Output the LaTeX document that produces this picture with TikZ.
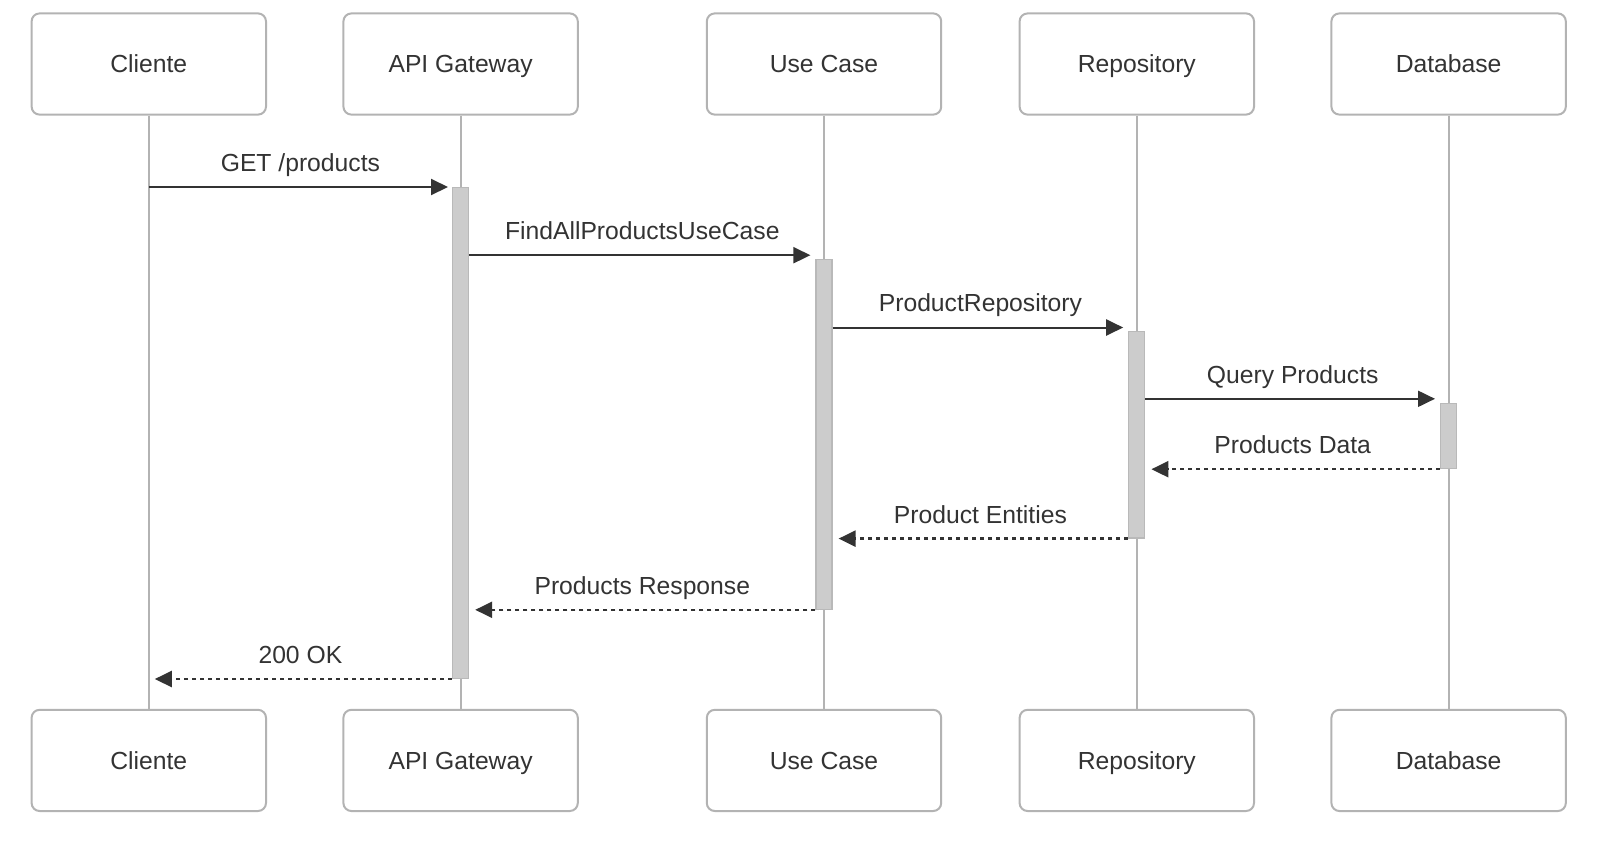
\documentclass[tikz,border=0pt]{standalone}
\usepackage{fontspec}
\setmainfont{Liberation Sans}
\usepackage{tikz}
\usetikzlibrary{arrows.meta, positioning, calc}

\definecolor{boxgray}{RGB}{179,179,179}
\definecolor{actfill}{RGB}{204,204,204}
\definecolor{actline}{RGB}{185,185,185}
\definecolor{ink}{RGB}{51,51,51}

\begin{document}
\begin{tikzpicture}[
    x=0.5pt, y=-0.5pt,
    actor/.style={rectangle, draw=boxgray, line width=1pt, rounded corners=4pt, fill=white, text=ink, minimum width=117.2pt, minimum height=50.6pt, text height=11pt, text depth=2.2pt, font=\fontsize{12.35}{14}\selectfont},
    life/.style={draw=boxgray, line width=1pt},
    act/.style={rectangle, draw=actline, fill=actfill, line width=0.6pt, minimum width=8pt, inner sep=0pt, anchor=north},
    msg/.style={draw=ink, line width=1pt, -{Triangle[length=8.5pt, width=8pt]}},
    reply/.style={msg, line width=1.2pt, dash pattern=on 2pt off 2pt},
    lbl/.style={text=ink, font=\fontsize{12.35}{14}\selectfont, anchor=base, yshift=7.8pt}
]
    \useasboundingbox (0,0) rectangle (1620,853);

    % Participants (top)
    \node (cli) [actor] at (148.8,64) {Cliente};
    \node (api) [actor, right=37.7pt of cli] {API Gateway};
    \node (uc) [actor, right=63.5pt of api] {Use Case};
    \node (repo) [actor, right=38.2pt of uc] {Repository};
    \node (db) [actor, right=37.7pt of repo] {Database};

    % Lifelines and participants (bottom)
    \foreach \p/\t in {cli/Cliente, api/API Gateway, uc/Use Case, repo/Repository, db/Database} {
        \node (\p b) [actor] at (\p |- 0,760.4) {\t};
        \draw [life] (\p) -- (\p b);
    }

    % Activation bars
    \node (apiact) [act, minimum height=245.4pt] at (api |- 0,187) {};
    \node (ucact) [act, minimum height=174.8pt] at (uc |- 0,259) {};
    \node (repoact) [act, minimum height=103.4pt] at (repo |- 0,330.6) {};
    \node (dbact) [act, minimum height=32.5pt] at (db |- 0,403) {};

    % Calls
    \draw [msg, shorten >=2pt] (cli |- apiact.north) -- (apiact.north west)
        node [lbl, midway] {GET /products};
    \coordinate (m2) at (0,255.2);
    \draw [msg, shorten >=2.5pt] (apiact.east |- m2) -- (ucact.west |- m2)
        node [lbl, midway] {FindAllProductsUseCase};
    \coordinate (m3) at (0,327.5);
    \draw [msg, shorten >=2.5pt] (ucact.east |- m3) -- (repoact.west |- m3)
        node [lbl, midway] {ProductRepository};
    \coordinate (m4) at (0,398.8);
    \draw [msg, shorten >=2.5pt] (repoact.east |- m4) -- (dbact.west |- m4)
        node [lbl, midway] {Query Products};

    % Returns
    \draw [reply, shorten >=3pt] (dbact.south west) -- (repoact.east |- dbact.south)
        node [lbl, midway] {Products Data};
    \draw [reply, shorten >=3pt] (repoact.south west) -- (ucact.east |- repoact.south)
        node [lbl, midway] {Product Entities};
    \draw [reply, shorten >=3pt] (ucact.south west) -- (apiact.east |- ucact.south)
        node [lbl, midway] {Products Response};
    \draw [reply, shorten >=3pt] (apiact.south west) -- (cli |- apiact.south)
        node [lbl, midway] {200 OK};

\end{tikzpicture}
\end{document}
